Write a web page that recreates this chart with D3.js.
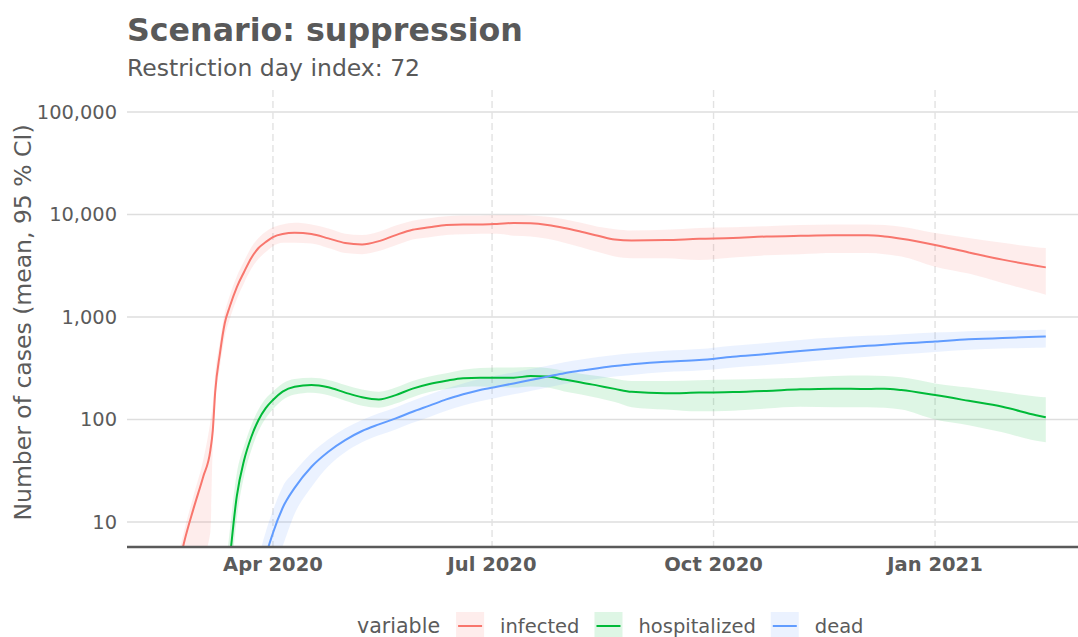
<!DOCTYPE html>
<html>
<head>
<meta charset="utf-8">
<script src="https://cdn.jsdelivr.net/npm/d3@7"></script>
<style>
  html, body { margin: 0; padding: 0; background: #ffffff; }
  svg { display: block; font-family: "DejaVu Sans", sans-serif; }
</style>
</head>
<body>
<svg id="chart" width="1078" height="637"></svg>
<script>
// ---------------- data ----------------
const dates = ["2020-02-20","2020-02-24","2020-02-28","2020-03-03","2020-03-06","2020-03-07","2020-03-08","2020-03-10","2020-03-12","2020-03-14",
  "2020-03-17","2020-03-20","2020-03-23","2020-03-26","2020-03-29","2020-04-01","2020-04-05","2020-04-10","2020-04-17","2020-04-24",
  "2020-05-01","2020-05-08","2020-05-15","2020-05-22","2020-05-29","2020-06-05","2020-06-12","2020-06-19","2020-06-26","2020-07-03",
  "2020-07-10","2020-07-17","2020-07-24","2020-07-31","2020-08-07","2020-08-14","2020-08-21","2020-08-28","2020-09-11","2020-09-25",
  "2020-10-09","2020-10-23","2020-11-06","2020-11-20","2020-12-04","2020-12-11","2020-12-18","2021-01-01","2021-01-15","2021-01-29",
  "2021-02-12","2021-02-16"];

const infectedMean = [2.2,6.2,13.5,27.5,50,78,185,445,873,1250,
  1960,2750,3770,4710,5390,6030,6460,6640,6460,5850,
  5270,5100,5500,6300,7090,7500,7900,8000,8000,8100,
  8270,8200,7900,7400,6800,6200,5700,5580,5630,5790,
  5900,6100,6200,6270,6270,6100,5800,5050,4260,3630,
  3160,3050];
const infectedHi = [3,8,18,40,95,140,280,580,1100,1600,
  2500,3500,4800,5900,6800,7500,8000,8300,8000,7300,
  6500,6300,6800,7800,8700,9200,9600,9800,9800,9900,
  9900,9800,9500,9000,8300,7600,7200,7000,7100,7400,
  7500,7700,7900,8000,8000,7900,7600,6600,5900,5300,
  4800,4700];
const infectedLo = [0.8,1.5,2.8,4.5,8,55,140,330,650,950,
  1500,2150,2950,3700,4300,4900,5300,5300,5200,4700,
  4200,4100,4400,5000,5700,6000,6300,6400,6500,6500,
  6200,6100,5800,5300,4800,4300,3900,3750,3750,3600,
  3800,4000,4100,4200,4200,4100,3900,3100,2650,2150,
  1750,1650];

const hospitalizedMean = [null,null,null,null,null,null,null,null,1.5,4.2,
  18,40,67.5,99,129,155,187,209,217,206,
  183,165,157,173,200,222,239,253,256,256,
  256,265,262,245,230,214,199,186,180,183,
  185,190,197,200,198,200,194,173,152,133,
  110,105];
const hospitalizedHi = [null,null,null,null,null,null,null,null,3,8,
  30,55,88,125,160,188,225,248,255,243,
  217,196,187,205,238,262,282,305,318,322,
  322,325,318,298,280,265,250,238,238,242,
  245,250,256,265,268,265,258,225,205,185,
  168,165];
const hospitalizedLo = [null,null,null,null,null,null,null,null,0.5,2,
  11,28,50,77,103,126,155,175,182,172,
  152,136,130,143,165,185,198,208,210,208,
  205,210,205,188,175,162,148,132,125,120,
  122,128,133,132,132,130,125,100,88,75,
  62,60];

const deadMean = [null,null,null,null,null,null,null,null,null,null,
  null,null,null,1.5,4.45,7.8,13.7,21.5,34.6,48.5,
  63,77.2,89.6,102.6,119,136.5,157,176,194,209,
  225,243,262,283,300,317,333,345,366,380,
  410,436,467,496,523,535,551,577,605,625,
  640,645];
const deadHi = [null,null,null,null,null,null,null,null,null,null,
  null,null,null,4.5,8,13,22,31,47,64,
  82,99,115,131,152,175,201,225,248,268,
  288,311,335,362,384,406,426,442,468,486,
  525,558,598,630,655,665,680,705,728,740,
  748,750];
const deadLo = [null,null,null,null,null,null,null,null,null,null,
  null,null,null,0.8,2,3.5,5.8,12,22,35,
  48,60,70,80,93,106,122,137,151,163,
  176,190,205,222,236,250,262,272,290,300,
  322,340,362,385,410,420,432,455,478,492,
  500,505];

const seriesNames = ["infected","hospitalized","dead"];
const seriesColors = ["#F8766D","#00BA38","#619CFF"];
const yTicks = [10,100,1000,10000,100000];
const xTicks = ["2020-04-01","2020-07-01","2020-10-01","2021-01-01"];
const xDomain = ["2020-01-31T09:00:00Z","2021-03-01T09:00:00Z"];
const yDomain = [5.7,164000];

const titleText = "Scenario: suppression";
const subtitleText = "Restriction day index: 72";
const yTitleText = "Number of cases (mean, 95 % CI)";
const legendTitleText = "variable";

// ---------------- layout ----------------
const W = 1078, H = 637;
const P = {left: 127, right: 1078, top: 90, bottom: 547};
const textColor = "#5b5b5b";

const parse = s => new Date(s.length > 10 ? s : s + "T00:00:00Z");
const dateObjs = dates.map(parse);

const x = d3.scaleUtc().domain(xDomain.map(parse)).range([P.left, P.right]);
const y = d3.scaleLog().domain(yDomain).range([P.bottom, P.top]);

const svg = d3.select("#chart");

svg.append("defs").append("clipPath").attr("id","panel")
  .append("rect").attr("x",P.left).attr("y",P.top)
  .attr("width",P.right-P.left).attr("height",P.bottom-P.top);

// gridlines
const grid = svg.append("g");
grid.selectAll("line.h").data(yTicks).join("line")
  .attr("x1",P.left).attr("x2",P.right)
  .attr("y1",d=>y(d)).attr("y2",d=>y(d))
  .attr("stroke","#dedede").attr("stroke-width",1.4);
grid.selectAll("line.v").data(xTicks).join("line")
  .attr("x1",d=>x(parse(d))).attr("x2",d=>x(parse(d)))
  .attr("y1",P.top).attr("y2",P.bottom)
  .attr("stroke","#e2e2e2").attr("stroke-width",1.4)
  .attr("stroke-dasharray","7,4");

// series
const series = [
  {name:"infected", mean:infectedMean, hi:infectedHi, lo:infectedLo},
  {name:"hospitalized", mean:hospitalizedMean, hi:hospitalizedHi, lo:hospitalizedLo},
  {name:"dead", mean:deadMean, hi:deadHi, lo:deadLo}
];
const color = d3.scaleOrdinal().domain(seriesNames).range(seriesColors);
const idx = d3.range(dates.length);

const plot = svg.append("g").attr("clip-path","url(#panel)");

plot.selectAll("path.band").data(series).join("path")
  .attr("class","band")
  .attr("fill",d=>color(d.name)).attr("fill-opacity",0.13).attr("stroke","none")
  .attr("d",s => d3.area()
      .defined(i => s.hi[i] != null && s.lo[i] != null)
      .x(i => x(dateObjs[i]))
      .y0(i => y(s.lo[i]))
      .y1(i => y(s.hi[i]))
      .curve(d3.curveMonotoneX)(idx));

plot.selectAll("path.line").data(series).join("path")
  .attr("class","line")
  .attr("fill","none").attr("stroke",d=>color(d.name)).attr("stroke-width",2)
  .attr("stroke-linejoin","round")
  .attr("d",s => d3.line()
      .defined(i => s.mean[i] != null)
      .x(i => x(dateObjs[i]))
      .y(i => y(s.mean[i]))
      .curve(d3.curveMonotoneX)(idx));

// bottom axis line
svg.append("line")
  .attr("x1",P.left).attr("x2",P.right).attr("y1",P.bottom).attr("y2",P.bottom)
  .attr("stroke","#5a5a5a").attr("stroke-width",2.6);

// y tick labels
const fmt = d3.format(",");
svg.append("g").selectAll("text").data(yTicks).join("text")
  .attr("x",117).attr("y",d=>y(d)).attr("dy","0.35em")
  .attr("text-anchor","end").attr("font-size",19.4).attr("fill",textColor)
  .text(d=>fmt(d));

// x tick labels
const xfmt = d3.utcFormat("%b %Y");
svg.append("g").selectAll("text").data(xTicks).join("text")
  .attr("x",d=>x(parse(d))).attr("y",571)
  .attr("text-anchor","middle").attr("font-size",19.5).attr("font-weight","bold")
  .attr("fill",textColor)
  .text(d=>xfmt(parse(d)));

// y axis title
svg.append("text")
  .attr("transform",`translate(31,${(P.top+P.bottom)/2 + 4}) rotate(-90)`)
  .attr("text-anchor","middle").attr("font-size",23.5).attr("fill",textColor)
  .text(yTitleText);

// title & subtitle
svg.append("text").attr("x",127).attr("y",41)
  .attr("font-size",31.7).attr("font-weight","bold").attr("fill","#595959")
  .text(titleText);
svg.append("text").attr("x",127).attr("y",76)
  .attr("font-size",23.5).attr("fill","#595959")
  .text(subtitleText);

// legend
const leg = svg.append("g");
const legY = 626;
const lt = leg.append("text").attr("x",357).attr("y",legY+7)
  .attr("font-size",20.6).attr("fill",textColor).text(legendTitleText);
let cx = 357 + lt.node().getComputedTextLength() + 16;
seriesNames.forEach((n,i) => {
  leg.append("rect").attr("x",cx).attr("y",legY-14).attr("width",28).attr("height",28)
    .attr("fill",color(n)).attr("fill-opacity",0.13);
  leg.append("line").attr("x1",cx+2).attr("x2",cx+26).attr("y1",legY).attr("y2",legY)
    .attr("stroke",color(n)).attr("stroke-width",2);
  const t = leg.append("text").attr("x",cx+28+16).attr("y",legY+7)
    .attr("font-size",19.5).attr("fill",textColor).text(n);
  cx = cx + 28 + 16 + t.node().getComputedTextLength() + 15;
});
</script>
</body>
</html>
